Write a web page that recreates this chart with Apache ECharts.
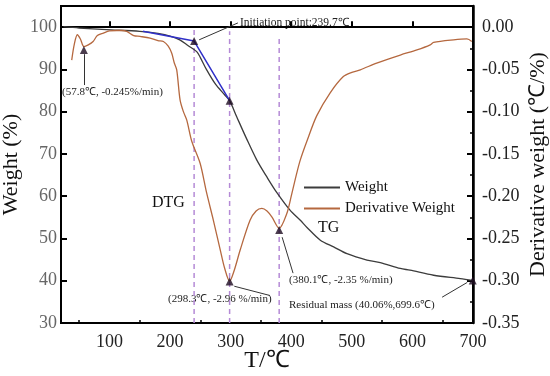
<!DOCTYPE html>
<html>
<head>
<meta charset="utf-8">
<script src="https://cdn.jsdelivr.net/npm/echarts@6/dist/echarts.min.js"></script>
<style>html,body{margin:0;padding:0;background:#fff}#c{width:550px;height:376px}</style>
</head>
<body>
<div id="c"></div>
<script>
// ---- data ----
const weightTemp = [24, 50, 95, 150, 180, 200, 216, 230, 244, 250, 260, 275, 290, 298.3, 310, 326.6, 343, 360, 376, 398, 415, 426, 448, 470, 492, 525, 547, 580, 596, 635, 679, 699.6];
const weightVal  = [100.1, 99.8, 99.4, 99.0, 98.5, 97.9, 97.0, 95.6, 94.2, 92.8, 90.0, 86.5, 84.0, 82.6, 78.8, 73.5, 68.6, 64.5, 60.9, 56.7, 54.3, 52.6, 49.6, 48.0, 46.4, 44.9, 44.3, 42.9, 42.5, 41.3, 40.5, 40.06];

const dtgTemp = [37.7, 42, 47, 52, 57.8, 65, 73, 80, 90, 100, 112, 120, 128.5, 140, 150.5, 167, 180, 189, 197, 202.8, 207, 211, 216.5, 222, 227.6, 235.8, 249.6, 260, 271.5, 283, 290, 298.3, 306, 315.6, 332, 342, 351.5, 360, 368, 380.1, 392.7, 400, 409, 415, 425.8, 442, 464, 486, 500, 514, 541, 580, 607.5, 629.4, 635, 668, 690, 698];
const dtgVal  = [-0.039, -0.020, -0.009, -0.014, -0.023, -0.021, -0.017, -0.010, -0.007, -0.0045, -0.004, -0.004, -0.005, -0.010, -0.011, -0.013, -0.016, -0.017, -0.0225, -0.031, -0.0425, -0.0505, -0.086, -0.100, -0.110, -0.135, -0.161, -0.195, -0.2285, -0.264, -0.285, -0.3005, -0.2875, -0.264, -0.2285, -0.2175, -0.2145, -0.2175, -0.2245, -0.238, -0.2205, -0.200, -0.173, -0.157, -0.135, -0.105, -0.078, -0.0585, -0.0535, -0.0505, -0.0425, -0.033, -0.027, -0.021, -0.018, -0.015, -0.014, -0.017];

const tangentTemp = [155, 239.7, 298.3];
const tangentVal  = [99.0, 96.7, 82.6];

const vlineTemp = [239.7, 298.3, 380.1];
const vlineTop  = [100, 99, 98];

const markWTemp = [239.7, 298.3, 699.6];
const markWVal  = [96.7, 82.6, 40.06];
const markDTemp = [57.8, 298.3, 380.1];
const markDVal  = [-0.027, -0.301, -0.240];

const xMajor = [100, 200, 300, 400, 500, 600, 700];
const xMinor = [50, 150, 250, 350, 450, 550, 650];

// arrows: [fromT, fromW, toT, toW] in weight-axis units
const arrows = [
  [58, 86.3, 58, 93.6],
  [312, 101.0, 248, 97.0],
  [365, 36.5, 306, 38.7],
  [403, 41.8, 385, 50.3],
  [649, 36.1, 690.5, 39.6]
];

// ---- chart ----
const font = 'Liberation Serif';
const zip = (a, b) => a.map((v, i) => [v, b[i]]);
const chart = echarts.init(document.getElementById('c'), null, {renderer: 'canvas'});

const vlineSeries = vlineTemp.map((t, i) => ({
  type: 'line', xAxisIndex: 0, yAxisIndex: 0, symbol: 'none', silent: true,
  data: [[t, 30], [t, vlineTop[i]]],
  lineStyle: {color: '#b58ad6', width: 1.5, type: [5, 4]}, z: 1
}));

const option = {
  animation: false,
  grid: {left: 61, right: 77, top: 6, bottom: 53, outerBoundsMode: 'none', containLabel: false,
    show: true, borderColor: '#000', borderWidth: 2, backgroundColor: 'transparent'},
  legend: {
    orient: 'vertical', left: 298, top: 175, itemWidth: 36, itemHeight: 14, itemGap: 6,
    data: ['Weight', 'Derivative Weight'],
    itemStyle: {opacity: 0},
    textStyle: {fontFamily: font, fontSize: 15, color: '#111'}
  },
  xAxis: [{
    type: 'value', min: 20, max: 700, position: 'bottom',
    name: 'T/℃', nameLocation: 'middle', nameGap: 26, nameMoveOverlap: false,
    nameTextStyle: {fontFamily: font, fontSize: 24, color: '#111', verticalAlign: 'top'},
    axisLine: {lineStyle: {color: '#000', width: 2}},
    axisTick: {inside: true, length: 6, customValues: xMajor, lineStyle: {color: '#000', width: 2}},
    axisLabel: {customValues: xMajor, fontFamily: font, fontSize: 18, color: '#222', margin: 10},
    splitLine: {show: false}
  }, {
    type: 'value', min: 20, max: 700, position: 'bottom',
    axisLine: {show: false},
    axisTick: {inside: true, length: 3, customValues: xMinor, lineStyle: {color: '#000', width: 1.5}},
    axisLabel: {show: false},
    splitLine: {show: false}
  }],
  yAxis: [{
    type: 'value', min: 30, max: 105, interval: 10, position: 'left',
    name: 'Weight (%)', nameLocation: 'middle', nameGap: 39, nameMoveOverlap: false,
    nameTextStyle: {fontFamily: font, fontSize: 22, color: '#111'},
    axisLine: {show: true, lineStyle: {color: '#000', width: 2}},
    axisTick: {inside: true, length: 6, lineStyle: {color: '#000', width: 2}},
    axisLabel: {fontFamily: font, fontSize: 18, color: '#666', margin: 4, showMaxLabel: false},
    splitLine: {show: false}
  }, {
    type: 'value', min: -0.35, max: 0.025, interval: 0.05, position: 'right',
    name: 'Derivative weight (℃/%)', nameLocation: 'middle', nameGap: 54, nameRotate: 90, nameMoveOverlap: false,
    nameTextStyle: {fontFamily: font, fontSize: 22, color: '#111'},
    axisLine: {show: true, lineStyle: {color: '#000', width: 2.5}},
    axisTick: {inside: true, length: 6, lineStyle: {color: '#000', width: 2}},
    minorTick: {show: true, splitNumber: 2, length: 3, lineStyle: {color: '#000', width: 1.5}},
    axisLabel: {fontFamily: font, fontSize: 18, color: '#222', margin: 9, showMaxLabel: false,
      formatter: v => Math.abs(v) < 1e-9 ? '0.00' : v.toFixed(2)},
    splitLine: {show: false}
  }],
  series: [
    ...vlineSeries,
    {
      name: 'Weight', type: 'line', xAxisIndex: 0, yAxisIndex: 0, symbol: 'none', smooth: 0.3,
      data: zip(weightTemp, weightVal), lineStyle: {color: '#3c3c3c', width: 1.3}, itemStyle: {color: '#3c3c3c'}, z: 3
    },
    {
      name: 'Derivative Weight', type: 'line', xAxisIndex: 0, yAxisIndex: 1, symbol: 'none', smooth: 0.3,
      data: zip(dtgTemp, dtgVal), lineStyle: {color: '#b5683f', width: 1.3}, itemStyle: {color: '#b5683f'}, z: 3
    },
    {
      name: 'tangent', type: 'line', xAxisIndex: 0, yAxisIndex: 0, symbol: 'none',
      data: zip(tangentTemp, tangentVal), lineStyle: {color: '#3030c8', width: 1.5}, z: 4,
      markLine: {
        silent: true, symbol: ['none', 'arrow'], symbolSize: [0, 9],
        label: {show: false},
        lineStyle: {color: '#333', width: 1, type: 'solid'},
        data: arrows.map(a => [{coord: [a[0], a[1]]}, {coord: [a[2], a[3]]}])
      }
    },
    {
      name: 'markW', type: 'scatter', xAxisIndex: 0, yAxisIndex: 0, symbol: 'triangle', symbolSize: 8,
      data: zip(markWTemp, markWVal), itemStyle: {color: '#1e0c22'}, z: 5
    },
    {
      name: 'markD', type: 'scatter', xAxisIndex: 0, yAxisIndex: 1, symbol: 'triangle', symbolSize: 8,
      data: zip(markDTemp, markDVal), itemStyle: {color: '#1e0c22'}, z: 5
    }
  ],
  graphic: [
    {type: 'text', x: 62, y: 92, style: {text: '(57.8℃, -0.245%/min)', font: '11px "Liberation Serif"', fill: '#222', verticalAlign: 'middle'}},
    {type: 'text', x: 240, y: 23, style: {text: 'Initiation point:239.7℃', font: '11.5px "Liberation Serif"', fill: '#222', verticalAlign: 'middle'}},
    {type: 'text', x: 152, y: 203, style: {text: 'DTG', font: '16px "Liberation Serif"', fill: '#111', verticalAlign: 'middle'}},
    {type: 'text', x: 318, y: 228, style: {text: 'TG', font: '16px "Liberation Serif"', fill: '#111', verticalAlign: 'middle'}},
    {type: 'text', x: 168, y: 299, style: {text: '(298.3℃, -2.96 %/min)', font: '11px "Liberation Serif"', fill: '#222', verticalAlign: 'middle'}},
    {type: 'text', x: 289, y: 280, style: {text: '(380.1℃, -2.35 %/min)', font: '11px "Liberation Serif"', fill: '#222', verticalAlign: 'middle'}},
    {type: 'text', x: 289, y: 305, style: {text: 'Residual mass (40.06%,699.6℃)', font: '11px "Liberation Serif"', fill: '#222', verticalAlign: 'middle'}}
  ]
};
chart.setOption(option);
</script>
</body>
</html>
